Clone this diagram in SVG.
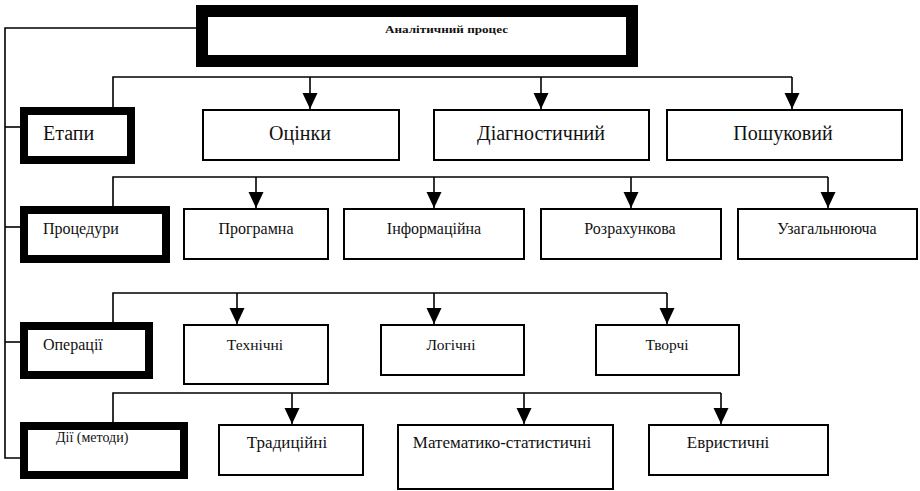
<svg xmlns="http://www.w3.org/2000/svg" width="920" height="491" viewBox="0 0 920 491" font-family="'Liberation Serif', 'Times New Roman', serif">
<style>
.box{fill:#fff;stroke:#000;stroke-width:2}
.thick{fill:#fff;stroke:#000;stroke-width:8}
.con{fill:none;stroke:#000;stroke-width:1.6}
text{font-family:'Liberation Serif','Times New Roman',serif;fill:#111}
.t20{font-size:20px;text-anchor:middle}
.t16{font-size:16px;text-anchor:middle}
.t155{font-size:15.5px;text-anchor:middle}
.t17{font-size:17px;text-anchor:middle}
</style>
<defs>
<marker id="arr" markerUnits="userSpaceOnUse" markerWidth="16" markerHeight="16" viewBox="0 0 16 16" refX="16" refY="8" orient="auto">
<polygon points="0,0.5 16,8 0,15.5" fill="#000"/>
</marker>
</defs>
<rect width="920" height="491" fill="#fff"/>
<g id="connectors">
<polyline class="con" points="196,28 5,28 5,458 20,458"/>
<line class="con" x1="5" y1="127" x2="20" y2="127"/>
<line class="con" x1="5" y1="227" x2="20" y2="227"/>
<line class="con" x1="5" y1="342" x2="20" y2="342"/>
<polyline class="con" points="113,107 113,77 792,77"/>
<line class="con" x1="310" y1="77" x2="310" y2="109" marker-end="url(#arr)"/>
<line class="con" x1="541" y1="77" x2="541" y2="109" marker-end="url(#arr)"/>
<line class="con" x1="792" y1="77" x2="792" y2="109" marker-end="url(#arr)"/>
<polyline class="con" points="113,206 113,177 828,177"/>
<line class="con" x1="256" y1="177" x2="256" y2="208" marker-end="url(#arr)"/>
<line class="con" x1="434" y1="177" x2="434" y2="208" marker-end="url(#arr)"/>
<line class="con" x1="631" y1="177" x2="631" y2="208" marker-end="url(#arr)"/>
<line class="con" x1="828" y1="177" x2="828" y2="208" marker-end="url(#arr)"/>
<polyline class="con" points="113,322 113,293 667,293"/>
<line class="con" x1="237" y1="293" x2="237" y2="324" marker-end="url(#arr)"/>
<line class="con" x1="434" y1="293" x2="434" y2="324" marker-end="url(#arr)"/>
<line class="con" x1="667" y1="293" x2="667" y2="324" marker-end="url(#arr)"/>
<polyline class="con" points="113,422 113,393 721,393"/>
<line class="con" x1="292" y1="393" x2="292" y2="424" marker-end="url(#arr)"/>
<line class="con" x1="524" y1="393" x2="524" y2="424" marker-end="url(#arr)"/>
<line class="con" x1="721" y1="393" x2="721" y2="424" marker-end="url(#arr)"/>
</g>
<g id="root">
<rect x="202" y="11" width="430" height="50" fill="#fff" stroke="#000" stroke-width="12"/>
<text x="385" y="33" font-size="11" font-weight="bold" textLength="123" lengthAdjust="spacingAndGlyphs">Аналітичний процес</text>
</g>
<g id="etapy">
<rect class="thick" x="24" y="111" width="107" height="49"/>
<text x="43" y="140" font-size="20">Етапи</text>
</g>
<g id="otsinky">
<rect class="box" x="203" y="110" width="196" height="50"/>
<text class="t20" x="300" y="140">Оцінки</text>
</g>
<g id="diagnostychnyi">
<rect class="box" x="434" y="110" width="215" height="50"/>
<text class="t20" x="541" y="140">Діагностичний</text>
</g>
<g id="poshukovyi">
<rect class="box" x="667" y="110" width="235" height="50"/>
<text class="t20" x="783" y="140">Пошуковий</text>
</g>
<g id="protsedury">
<rect class="thick" x="24" y="210" width="142" height="49"/>
<text x="43" y="234" font-size="16">Процедури</text>
</g>
<g id="prohramna">
<rect class="box" x="184" y="209" width="144" height="50"/>
<text class="t16" x="256" y="234">Програмна</text>
</g>
<g id="informatsiina">
<rect class="box" x="344" y="209" width="180" height="50"/>
<text class="t16" x="434" y="234">Інформаційна</text>
</g>
<g id="rozrakhunkova">
<rect class="box" x="541" y="209" width="180" height="50"/>
<text class="t16" x="630" y="234">Розрахункова</text>
</g>
<g id="uzahalniuiucha">
<rect class="box" x="738" y="209" width="179" height="50"/>
<text class="t16" x="827" y="234">Узагальнююча</text>
</g>
<g id="operatsii">
<rect class="thick" x="24" y="326" width="125" height="49"/>
<text x="43" y="350" font-size="16">Операції</text>
</g>
<g id="tekhnichni">
<rect class="box" x="184" y="325" width="144" height="59"/>
<text class="t155" x="255" y="350">Технічні</text>
</g>
<g id="lohichni">
<rect class="box" x="381" y="325" width="143" height="50"/>
<text class="t155" x="451" y="350">Логічні</text>
</g>
<g id="tvorchi">
<rect class="box" x="596" y="325" width="143" height="50"/>
<text class="t155" x="667" y="350">Творчі</text>
</g>
<g id="dii">
<rect class="thick" x="24" y="426" width="160" height="49"/>
<text x="56" y="442" font-size="14">Дії (методи)</text>
</g>
<g id="tradytsiini">
<rect class="box" x="219" y="425" width="144" height="50"/>
<text class="t17" x="287" y="448">Традиційні</text>
</g>
<g id="matematyko">
<rect class="box" x="398" y="425" width="215" height="64"/>
<text class="t17" x="502" y="448">Математико-статистичні</text>
</g>
<g id="evrystychni">
<rect class="box" x="649" y="425" width="179" height="50"/>
<text class="t17" x="728" y="448">Евристичні</text>
</g>
</svg>
